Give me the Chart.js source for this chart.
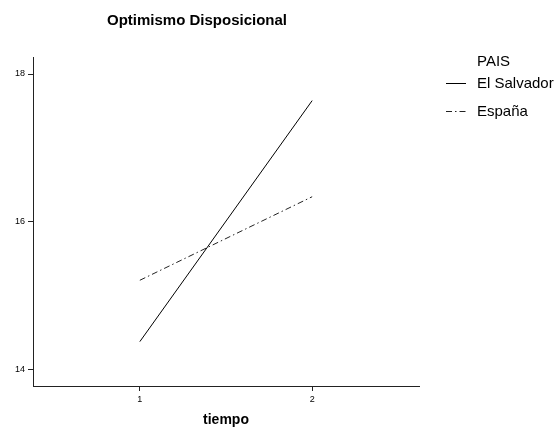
<!DOCTYPE html>
<html>
<head>
<meta charset="utf-8">
<script src="https://cdn.jsdelivr.net/npm/chart.js@4"></script>
<style>
html,body{margin:0;padding:0;background:#fff;}
#wrap{width:555px;height:427px;position:relative;}
</style>
</head>
<body>
<div id="wrap"><canvas id="c" width="555" height="427"></canvas></div>
<script>
const title = "Optimismo Disposicional";
const xTitle = "tiempo";
const legendTitle = "PAIS";
const tiempo = [1, 2];
const seriesNames = ["El Salvador", "España"];
const elSalvador = [14.38, 17.64];
const espana = [15.21, 16.34];
const yTicks = [14, 16, 18];
const xTicks = [1, 2];

const FONT = "Arial, 'Liberation Sans', sans-serif";

const toPts = vals => tiempo.map((t, i) => ({x: t, y: vals[i]}));

const overlay = {
  id: 'overlay',
  afterDraw(chart) {
    const ctx = chart.ctx;
    ctx.save();
    ctx.fillStyle = '#000';
    ctx.font = "bold 15px " + FONT;
    ctx.textAlign = 'center';
    ctx.textBaseline = 'alphabetic';
    ctx.fillText(title, 197, 25);
    // legend
    ctx.font = "15px " + FONT;
    ctx.textAlign = 'left';
    ctx.textBaseline = 'middle';
    ctx.fillText(legendTitle, 477, 62);
    const ds = chart.data.datasets;
    const ys = [84, 112];
    ds.forEach((d, i) => {
      ctx.strokeStyle = d.borderColor;
      ctx.lineWidth = 1;
      ctx.setLineDash(d.borderDash || []);
      ctx.beginPath();
      ctx.moveTo(446, ys[i] - 0.5);
      ctx.lineTo(466, ys[i] - 0.5);
      ctx.stroke();
      ctx.setLineDash([]);
      ctx.fillText(d.label, 477, ys[i]);
    });
    ctx.restore();
  }
};

new Chart(document.getElementById('c'), {
  type: 'line',
  data: {
    datasets: [
      {label: seriesNames[0], data: toPts(elSalvador), borderColor: '#000', borderWidth: 1, pointRadius: 0, tension: 0},
      {label: seriesNames[1], data: toPts(espana), borderColor: '#222', borderWidth: 1, borderDash: [6, 3, 1.5, 3], pointRadius: 0, tension: 0}
    ]
  },
  options: {
    responsive: false,
    animation: false,
    layout: {padding: {top: 57, right: 136, left: 0, bottom: 0}},
    plugins: {legend: {display: false}, title: {display: false}, tooltip: {enabled: false}},
    scales: {
      x: {
        type: 'linear',
        min: 0.38, max: 2.62,
        afterBuildTicks: s => { s.ticks = xTicks.map(v => ({value: v})); },
        afterFit: s => { s.height = 41; },
        grid: {display: true, drawOnChartArea: false, drawTicks: true, tickLength: 5, color: '#222'},
        border: {display: true, color: '#222', width: 1},
        ticks: {color: '#000', font: {family: FONT, size: 9}, padding: 3, maxRotation: 0},
        title: {display: true, text: xTitle, color: '#000', font: {family: FONT, size: 14, weight: 'bold', lineHeight: 1}, padding: {top: 0, bottom: 0}}
      },
      y: {
        type: 'linear',
        min: 13.78, max: 18.23,
        afterBuildTicks: s => { s.ticks = yTicks.map(v => ({value: v})); },
        afterFit: s => { s.width = 33; },
        grid: {display: true, drawOnChartArea: false, drawTicks: true, tickLength: 5, color: '#222'},
        border: {display: true, color: '#222', width: 1},
        ticks: {color: '#000', font: {family: FONT, size: 9}, padding: 3}
      }
    }
  },
  plugins: [overlay]
});
</script>
</body>
</html>
